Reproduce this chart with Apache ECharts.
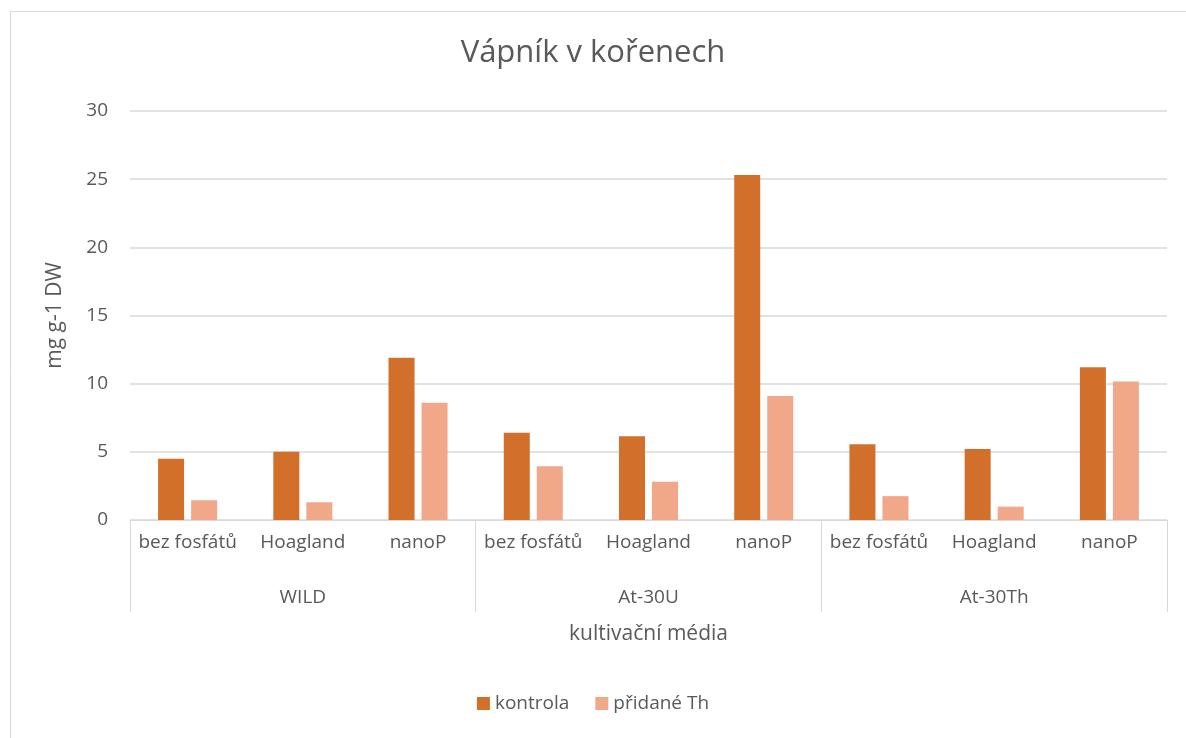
<!DOCTYPE html>
<html lang="cs">
<head>
<meta charset="UTF-8">
<title>Vápník v kořenech</title>
<script src="https://cdn.jsdelivr.net/npm/echarts@6/dist/echarts.min.js"></script>
<style>
  html, body { margin: 0; padding: 0; background: #fff; }
  #main { width: 1186px; height: 738px; }
</style>
</head>
<body>
<div id="main"></div>
<script>
// data
var media = ['bez fosfátů', 'Hoagland', 'nanoP', 'bez fosfátů', 'Hoagland', 'nanoP', 'bez fosfátů', 'Hoagland', 'nanoP'];
var lines = ['WILD', 'At-30U', 'At-30Th'];
var kontrola = [4.5, 5.0, 11.9, 6.4, 6.15, 25.3, 5.55, 5.2, 11.2];
var pridaneTh = [1.45, 1.3, 8.6, 3.95, 2.8, 9.1, 1.75, 0.98, 10.15];

var txt = '#595959';
var font = 'Open Sans';

var chart = echarts.init(document.getElementById('main'));
chart.setOption({
    animation: false,
    textStyle: { fontFamily: font, color: txt },
    title: {
        text: 'Vápník v kořenech',
        left: 'center',
        top: 33,
        textStyle: { fontFamily: font, fontSize: 31, fontWeight: 'normal', color: txt }
    },
    legend: {
        bottom: 20,
        left: 'center',
        itemWidth: 13,
        itemHeight: 13,
        itemGap: 26,
        icon: 'rect',
        textStyle: { fontFamily: font, fontSize: 19, color: txt },
        data: ['kontrola', 'přidané Th']
    },
    grid: { left: 130, right: 19, top: 111, bottom: 218 },
    graphic: [{
        type: 'rect',
        shape: { x: 10.5, y: 11.5, width: 1300, height: 900 },
        style: { fill: 'none', stroke: '#d9d9d9', lineWidth: 1 },
        silent: true
    }],
    xAxis: [{
        type: 'category',
        data: media,
        axisLine: { lineStyle: { color: '#d9d9d9' } },
        axisTick: { show: false },
        axisLabel: { color: txt, fontSize: 19, margin: 13, interval: 0, fontFamily: font }
    }, {
        type: 'category',
        data: lines,
        position: 'bottom',
        axisLine: { show: false },
        axisTick: { show: true, length: 92, lineStyle: { color: '#d9d9d9' } },
        axisLabel: { color: txt, fontSize: 19, margin: 68, interval: 0, fontFamily: font },
        name: 'kultivační média',
        nameLocation: 'middle',
        nameGap: 104,
        nameTextStyle: { color: txt, fontSize: 21, fontFamily: font }
    }],
    yAxis: {
        type: 'value',
        min: 0,
        max: 30,
        interval: 5,
        axisLine: { show: false },
        axisTick: { show: false },
        splitLine: { lineStyle: { color: '#d9d9d9', width: 1.5 } },
        axisLabel: { color: txt, fontSize: 19, margin: 22, fontFamily: font },
        name: 'mg g-1 DW',
        nameLocation: 'middle',
        nameGap: 64,
        nameTextStyle: { color: txt, fontSize: 21, fontFamily: font }
    },
    series: [{
        name: 'kontrola',
        type: 'bar',
        xAxisIndex: 0,
        data: kontrola,
        barWidth: 26,
        barGap: '27%',
        itemStyle: { color: '#d2702b' }
    }, {
        name: 'přidané Th',
        type: 'bar',
        xAxisIndex: 0,
        data: pridaneTh,
        barWidth: 26,
        itemStyle: { color: '#f0a889' }
    }]
});
</script>
</body>
</html>
